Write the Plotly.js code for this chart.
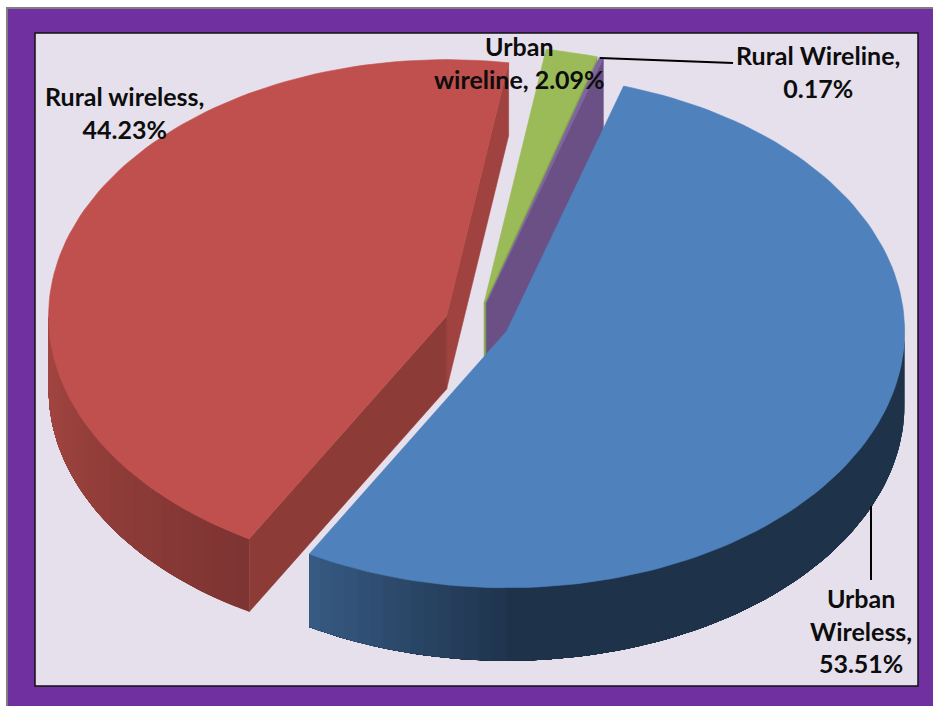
<!DOCTYPE html>
<html>
<head>
<meta charset="utf-8">
<script src="https://cdn.plot.ly/plotly-3.0.1.min.js"></script>
<style>html,body{margin:0;padding:0;background:#fff}#chart{width:933px;height:706px}</style>
</head>
<body>
<div id="chart"></div>
<script>
// Data, clockwise from the start angle
const categories = ["Urban Wireless", "Rural wireless", "Urban wireline", "Rural Wireline"];
const values = [53.51, 44.23, 2.09, 0.17];
const labelLines = [["Urban", "Wireless,", "53.51%"], ["Rural wireless,", "44.23%"], ["Urban", "wireline, 2.09%"], ["Rural Wireline,", "0.17%"]];

// Projection of the tilted, exploded pie onto the page axes
const startAngle = 17.1, cx = 477.0, cy = 323, rx = 398, ry = 256.5, depth = 73, explode = 0.081;
const topColors = ["#4f81bd", "#c0504d", "#9bbb59", "#8064a2"];
const rad = a => a * Math.PI / 180;
const total = values.reduce((a, b) => a + b, 0);

let acc = startAngle;
const slices = categories.map((name, i) => {
  const a0 = acc, a1 = acc + values[i] / total * 360;
  acc = a1;
  const mid = rad((a0 + a1) / 2);
  return {name, a0, a1, ax: cx + explode * rx * Math.sin(mid), ay: cy - explode * ry * Math.cos(mid)};
});
const pt = (s, a, z = 0) => [s.ax + rx * Math.sin(rad(a)), s.ay - ry * Math.cos(rad(a)) + z];
const poly = (name, pts, color, width = 0.6) => ({
  type: "scatter", mode: "lines", name, x: pts.map(p => p[0]), y: pts.map(p => p[1]),
  fill: "toself", fillcolor: color, line: {color, width}, hoverinfo: "name", showlegend: false
});
const arc = (s, a0, a1, z = 0) => {
  const n = Math.max(2, Math.ceil(Math.abs(a1 - a0) / 1.5)), out = [];
  for (let k = 0; k <= n; k++) out.push(pt(s, a0 + (a1 - a0) * k / n, z));
  return out;
};
const topFace = (s, c) => poly(s.name, [[s.ax, s.ay], ...arc(s, s.a0, s.a1), [s.ax, s.ay]], c);
const radialWall = (s, a, c) => poly(s.name, [[s.ax, s.ay], pt(s, a), pt(s, a, depth), [s.ax, s.ay + depth], [s.ax, s.ay]], c);
const mix = (c0, c1, t) => "rgb(" + c0.map((v, i) => Math.round(v + (c1[i] - v) * t)).join(",") + ")";
// Each band runs on to the far end of the wall, so the next band paints over it and no seam shows.
const outerWall = (s, a0, a1, colorAt) => {
  const out = [];
  for (let a = a0; a < a1; a += 2) {
    out.push(poly(s.name, [...arc(s, a, a1), ...arc(s, a1, a, depth)], colorAt(a), 0));
  }
  return out;
};

const [blue, red, green, purple] = slices;
const traces = [
  radialWall(green, green.a1, "#86a84a"),
  radialWall(purple, purple.a1, "#6a5085"),
  topFace(green, topColors[2]),
  topFace(purple, topColors[3]),
  radialWall(red, red.a1, "#a04340"),
  radialWall(red, red.a0, "#8c3b37"),
  ...outerWall(red, red.a0, 270, a => mix([126, 52, 50], [166, 71, 66], (a - red.a0) / (270 - red.a0))),
  topFace(red, topColors[1]),
  ...outerWall(blue, 90, blue.a1, a => a > 178 ? mix([30, 51, 76], [56, 92, 134], (a - 178) / (blue.a1 - 178)) : "#1e3349"),
  topFace(blue, topColors[0])
].flat();

const labelPos = [[861, 630], [124, 112], [519, 62], [818, 71]];
const annotations = labelLines.map((lines, i) => ({
  xref: "x", yref: "y", x: labelPos[i][0], y: labelPos[i][1], xanchor: "center", yanchor: "middle",
  text: "<b>" + lines.join("<br>") + "</b>", showarrow: false, align: "center",
  font: {family: "Lato, 'Open Sans', sans-serif", size: 25, color: "#0d0d0d"}
}));

const layout = {
  width: 933, height: 706, margin: {l: 0, r: 0, t: 0, b: 0}, showlegend: false,
  paper_bgcolor: "#ffffff", plot_bgcolor: "rgba(0,0,0,0)",
  xaxis: {range: [0, 933], visible: false, fixedrange: true},
  yaxis: {range: [706, 0], visible: false, fixedrange: true},
  shapes: [
    {type: "rect", layer: "below", xref: "x", yref: "y", x0: 7, y0: 8, x1: 940, y1: 720, fillcolor: "#7030a0", line: {color: "#7f7f7f", width: 2}},
    {type: "rect", layer: "below", xref: "x", yref: "y", x0: 35, y0: 33, x1: 918, y1: 686, fillcolor: "#e6e0ec", line: {color: "#111111", width: 1.5}},
    {type: "line", layer: "above", xref: "x", yref: "y", x0: 600, y0: 58, x1: 733, y1: 63, line: {color: "#000000", width: 2}},
    {type: "line", layer: "above", xref: "x", yref: "y", x0: 871, y0: 506, x1: 871, y1: 580, line: {color: "#000000", width: 2}}
  ],
  annotations
};
Plotly.newPlot("chart", traces, layout, {displayModeBar: false, responsive: false});
</script>
</body>
</html>
